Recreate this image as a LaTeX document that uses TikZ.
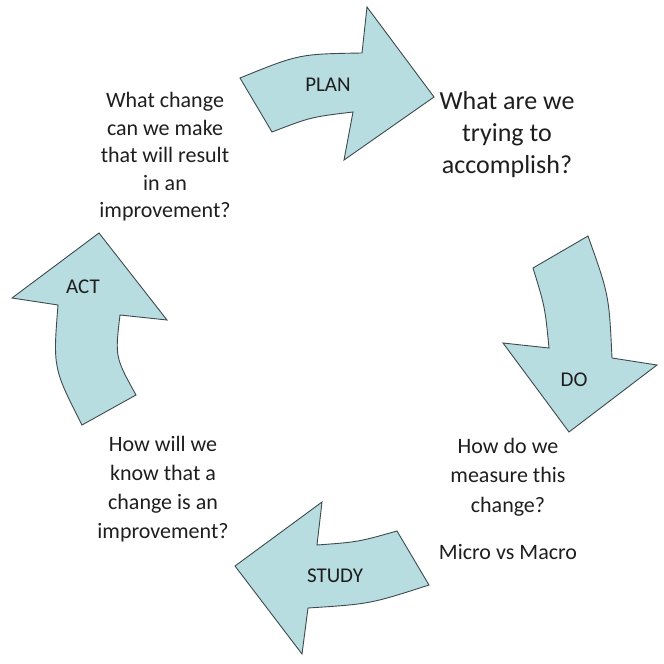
\documentclass[tikz,border=0pt]{standalone}
\usepackage{fontspec}
\setmainfont{Carlito}
\definecolor{pdcafill}{HTML}{B7DDE0}
\definecolor{pdcaline}{HTML}{3E4A4E}
\definecolor{pdcatext}{HTML}{1E1E1E}
\tikzset{
  pdcaarrow/.style={fill=pdcafill, draw=pdcaline, line width=0.9pt, line join=miter},
  steplabel/.style={text=pdcatext, font=\fontsize{21}{25}\selectfont},
  question/.style={text=pdcatext, align=center, font=\fontsize{22}{27.5}\selectfont},
}
\begin{document}
\begin{tikzpicture}[x=1pt, y=-1pt]
  % 余白
  \useasboundingbox (0,0) rectangle (664,664);

  % 矢印 (PLAN)
  \draw[pdcaarrow] (240,78) .. controls (299,54) .. (362,53) -- (367,7) -- (434,97)
    -- (344,160) -- (353,112) .. controls (311,117) .. (272,132) -- cycle;
  % 矢印 (DO)
  \draw[pdcaarrow] (588,236) .. controls (609,295) .. (612,358) -- (657,365) -- (569,432)
    -- (503,343) -- (549,348) .. controls (545,307) .. (533,268) -- cycle;
  % 矢印 (STUDY)
  \draw[pdcaarrow] (429,585) .. controls (370,604) .. (308,608) -- (302,654) -- (235,566)
    -- (322,502) -- (317,545) .. controls (358,542) .. (397,531) -- cycle;
  % 矢印 (ACT)
  \draw[pdcaarrow] (82,425) .. controls (53,368) .. (58,305) -- (12,298) -- (99,233)
    -- (167,320) -- (120,315) .. controls (115,357) .. (136,395) -- cycle;

  % ラベル
  \node[steplabel] (plan) at (328,85) {PLAN};
  \node[steplabel] (do) at (574,380) {DO};
  \node[steplabel] (study) at (335,576) {STUDY};
  \node[steplabel] (act) at (83,287) {ACT};

  % 質問
  \node[question] (change) at (165,157) {What change\\can we make\\that will result\\in an\\improvement?};
  \node[question, font=\fontsize{26}{32}\selectfont] (aim) at (507,135) {What are we\\trying to\\accomplish?};
  \node[question, font=\fontsize{22}{29.5}\selectfont] (measure) at (508,477) {How do we\\measure this\\change?};
  \node[question] (micro) at (508,552) {Micro vs Macro};
  \node[question, font=\fontsize{22}{29}\selectfont] (know) at (163,489) {How will we\\know that a\\change is an\\improvement?};
\end{tikzpicture}
\end{document}
